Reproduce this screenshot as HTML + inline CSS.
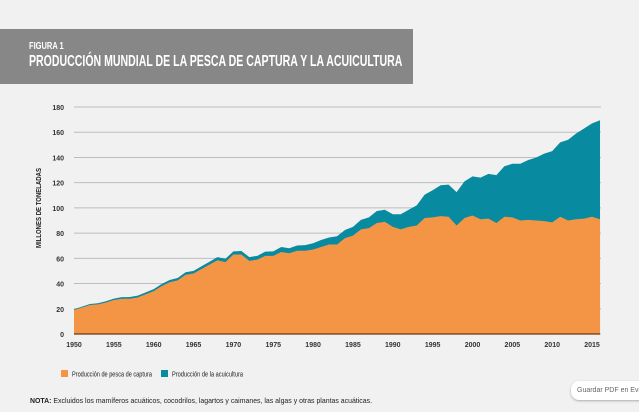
<!DOCTYPE html>
<html><head><meta charset="utf-8"><style>
body{margin:0;width:639px;height:412px;background:#f1f1f1;overflow:hidden;font-family:"Liberation Sans",sans-serif;position:relative}
#hdr{position:absolute;left:0;top:29px;width:413px;height:55px;background:#878787;color:#fff}
#hdr .a{position:absolute;left:29px;top:12px;font-size:10px;font-weight:bold;transform:scaleX(0.75);transform-origin:left}
#hdr .b{position:absolute;left:29px;top:24px;font-size:16px;font-weight:bold;white-space:nowrap;transform:scaleX(0.66);transform-origin:left}
#btn{position:absolute;left:571px;top:381px;width:80px;height:19px;background:#fff;border-radius:8px;box-shadow:0 1px 2px #aaa;font-size:7px;color:#666;line-height:19px;padding-left:6px}
</style></head><body>
<div id="hdr"><div class="a">FIGURA 1</div><div class="b">PRODUCCIÓN MUNDIAL DE LA PESCA DE CAPTURA Y LA ACUICULTURA</div></div>
<svg id="c" width="639" height="412" style="position:absolute;left:0;top:0"></svg>
<div id="btn">Guardar PDF en Eve</div>
<script>
const years=[];for(let y=1950;y<=2016;y++)years.push(y);
const capture=[19,21,23,23.5,25,27,28,28,29,31.5,34,38,41,42.5,47,48,51.5,55,58.5,57,63,63,58,59,62,62,65,64,66,66,67,69,71,71,76,78,83,84,88,89,85,83,85,86,92,92.5,93.5,93,86,92,94,91,91.5,88,93,92.5,90,90.5,90,89.5,88.5,93,90,91,91.5,93,91];
const aquaculture=[0.6,0.7,0.8,0.9,1,1.1,1.2,1.3,1.4,1.5,1.6,1.7,1.8,1.9,2,2.1,2.2,2.3,2.5,2.7,2.5,2.8,3,3,3.3,3.5,4,4,4.2,4.5,5,5.5,5.5,6.5,6.5,7,7.5,8.5,9.5,9.5,10,12,13.5,16,18.5,21.5,24.5,25.5,26.5,29,31,33,35.5,38,40,42.5,45,47.5,50,53.5,56.5,59,64,68,71.5,74,78.5];
const yTicks=[0,20,40,60,80,100,120,140,160,180];
const xTicks=[1950,1955,1960,1965,1970,1975,1980,1985,1990,1995,2000,2005,2010,2015];
const X=y=>74+(y-1950)*7.97, Y=v=>334-v*1.261;
const svg=document.getElementById('c'),NS='http://www.w3.org/2000/svg';
function mk(t,a,p){const e=document.createElementNS(NS,t);for(const k in a)e.setAttribute(k,a[k]);(p||svg).appendChild(e);return e;}
yTicks.forEach(v=>{
 const l=mk('line',{x1:74,x2:601,y1:Y(v),y2:Y(v),stroke:'#bdbdbd','stroke-width':1});
 
 
 const t=mk('text',{x:64,y:Y(v)+3,'text-anchor':'end','font-size':7,'font-weight':'bold',fill:'#333'});t.textContent=v;
 
 
});
xTicks.forEach(v=>{
 const t=mk('text',{x:X(v),y:347,'text-anchor':'middle','font-size':7,'font-weight':'bold',fill:'#333'});t.textContent=v;
 
 
});
let totalPath='',capPath='';
years.forEach((y,i)=>{totalPath+=(i?'L':'M')+X(y)+','+Y(capture[i]+aquaculture[i]);capPath+=(i?'L':'M')+X(y)+','+Y(capture[i]);});
const xe=X(years[years.length-1]),x0=X(years[0]);
const pa=mk('path',{d:totalPath+'L'+xe+','+Y(0)+'L'+x0+','+Y(0)+'Z',fill:'#088aa0'});


const pc=mk('path',{d:capPath+'L'+xe+','+Y(0)+'L'+x0+','+Y(0)+'Z',fill:'#f49546'});


const ax=mk('line',{x1:74,x2:xe,y1:Y(0),y2:Y(0),stroke:'#6b3b12','stroke-width':1.2});


const yt=mk('text',{x:0,y:0,transform:'translate(41,208) rotate(-90)','text-anchor':'middle','font-size':7,'font-weight':'bold',fill:'#222',textLength:80,lengthAdjust:'spacingAndGlyphs'});yt.textContent='MILLONES DE TONELADAS';


const r1=mk('rect',{x:61,y:370,width:7,height:7,fill:'#f49546'});


const t1=mk('text',{x:72,y:376.5,'font-size':7,fill:'#222',textLength:80,lengthAdjust:'spacingAndGlyphs'});t1.textContent='Producción de pesca de captura';


const r2=mk('rect',{x:161,y:370,width:7,height:7,fill:'#088aa0'});


const t2=mk('text',{x:172,y:376.5,'font-size':7,fill:'#222',textLength:71,lengthAdjust:'spacingAndGlyphs'});t2.textContent='Producción de la acuicultura';


const n=mk('text',{x:30,y:403,'font-size':7.5,fill:'#222',textLength:342,lengthAdjust:'spacingAndGlyphs'});n.innerHTML='<tspan font-weight="bold">NOTA:</tspan> Excluidos los mamíferos acuáticos, cocodrilos, lagartos y caimanes, las algas y otras plantas acuáticas.';


</script>
</body></html>
